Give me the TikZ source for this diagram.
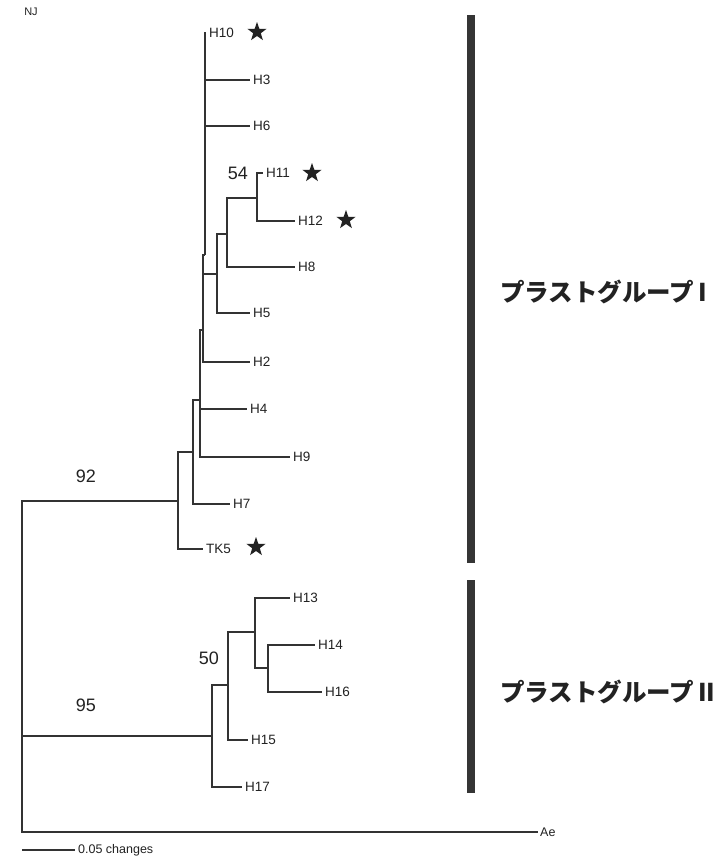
\documentclass[tikz,border=0pt]{standalone}
\usepackage{fontspec}
\setmainfont{Liberation Sans}
\newfontfamily\jp{Noto Sans CJK JP}
\usetikzlibrary{shapes.geometric}
\definecolor{ln}{HTML}{333333}
\definecolor{tx}{HTML}{222222}
\definecolor{barc}{HTML}{353535}
\begin{document}
\begin{tikzpicture}[x=1pt,y=-1pt,
  br/.style={draw=ln, line width=1.2pt},
  leaf/.style={anchor=west, inner xsep=3pt, inner ysep=0pt, text=tx, font=\fontsize{13.5}{14}\selectfont},
  bs/.style={inner sep=0pt, text=tx, font=\fontsize{18}{20}\selectfont},
  starmark/.style={star, star points=5, star point ratio=2.5, minimum size=20pt, inner sep=0pt, fill=tx, draw=none},
  grpbar/.style={draw=barc, line width=8pt},
  grplab/.style={anchor=west, inner sep=0pt, text=tx, font=\jp\bfseries\fontsize{24.5}{26}\selectfont}
]
\useasboundingbox (0,0) rectangle (720,857);
\fill[white] (0,0) rectangle (720,857);

% title
\node[inner sep=0pt, text=tx, font=\fontsize{11}{12}\selectfont] (nj) at (31,12) {NJ};

% internal nodes
\coordinate (root) at (22,600);
\coordinate (n92) at (178,501);
\coordinate (nA) at (193,452);
\coordinate (nB) at (200,400);
\coordinate (nC) at (203,330);
\coordinate (nD) at (205,255);
\coordinate (nE) at (217,274);
\coordinate (nF) at (227,234);
\coordinate (nG) at (257,198);
\coordinate (n95) at (212,736);
\coordinate (n50) at (228,685);
\coordinate (nH) at (255,632);
\coordinate (nI) at (268,668);

% leaves
\node[leaf] (h10) at (206,33) {H10};
\node[leaf] (h3) at (250,80) {H3};
\node[leaf] (h6) at (250,126) {H6};
\node[leaf] (h11) at (263,173) {H11};
\node[leaf] (h12) at (295,221) {H12};
\node[leaf] (h8) at (295,267) {H8};
\node[leaf] (h5) at (250,313) {H5};
\node[leaf] (h2) at (250,362) {H2};
\node[leaf] (h4) at (247,409) {H4};
\node[leaf] (h9) at (290,457) {H9};
\node[leaf] (h7) at (230,504) {H7};
\node[leaf] (tk5) at (203,549) {TK5};
\node[leaf] (h13) at (290,598) {H13};
\node[leaf] (h14) at (315,645) {H14};
\node[leaf] (h16) at (322,692) {H16};
\node[leaf] (h15) at (248,740) {H15};
\node[leaf] (h17) at (242,787) {H17};
\node[leaf, font=\fontsize{12.5}{13}\selectfont, inner xsep=2pt] (ae) at (538,832) {Ae};

% stars
\node[starmark] (s10) at (257,32) {};
\node[starmark] (s11) at (312,173) {};
\node[starmark] (s12) at (346,220) {};
\node[starmark] (s5) at (256,547) {};

% branches
\draw[br] (root) |- (n92);
\draw[br] (root) |- (n95);
\draw[br] (root) |- (ae.west);

\draw[br] (n92) |- (nA);
\draw[br] (n92) |- (tk5.west);
\draw[br] (nA) |- (nB);
\draw[br] (nA) |- (h7.west);
\draw[br] (nB) |- (nC);
\draw[br] (nB) |- (h4.west);
\draw[br] (nB) |- (h9.west);
\draw[br] (nC) |- (nD);
\draw[br] (nC) |- (nE);
\draw[br] (nC) |- (h2.west);
\draw[br] (nD) |- (h10.west);
\draw[br] (nD) |- (h3.west);
\draw[br] (nD) |- (h6.west);
\draw[br] (nE) |- (nF);
\draw[br] (nE) |- (h5.west);
\draw[br] (nF) |- (nG);
\draw[br] (nF) |- (h8.west);
\draw[br] (nG) |- (h11.west);
\draw[br] (nG) |- (h12.west);

\draw[br] (n95) |- (n50);
\draw[br] (n95) |- (h17.west);
\draw[br] (n50) |- (nH);
\draw[br] (n50) |- (h15.west);
\draw[br] (nH) |- (h13.west);
\draw[br] (nH) |- (nI);
\draw[br] (nI) |- (h14.west);
\draw[br] (nI) |- (h16.west);

% bootstrap values
\node[bs] (b54) at (238,173) {54};
\node[bs] (b92) at (86,476) {92};
\node[bs] (b95) at (86,705) {95};
\node[bs] (b50) at (209,658) {50};

% scale bar
\coordinate (sb1) at (22,850);
\node[leaf, font=\fontsize{12.5}{13}\selectfont] (sbl) at (75,850) {0.05 changes};
\draw[br] (sb1) -- (sbl.west);

% group bars
\coordinate (g1a) at (471,15);
\coordinate (g1b) at (471,563);
\coordinate (g2a) at (471,580);
\coordinate (g2b) at (471,793);
\draw[grpbar] (g1a) -- (g1b);
\draw[grpbar] (g2a) -- (g2b);
\node[grplab] (gl1) at (500,292) {プラストグループ\,I};
\node[grplab] (gl2) at (500,692) {プラストグループ\,II};
\end{tikzpicture}
\end{document}
